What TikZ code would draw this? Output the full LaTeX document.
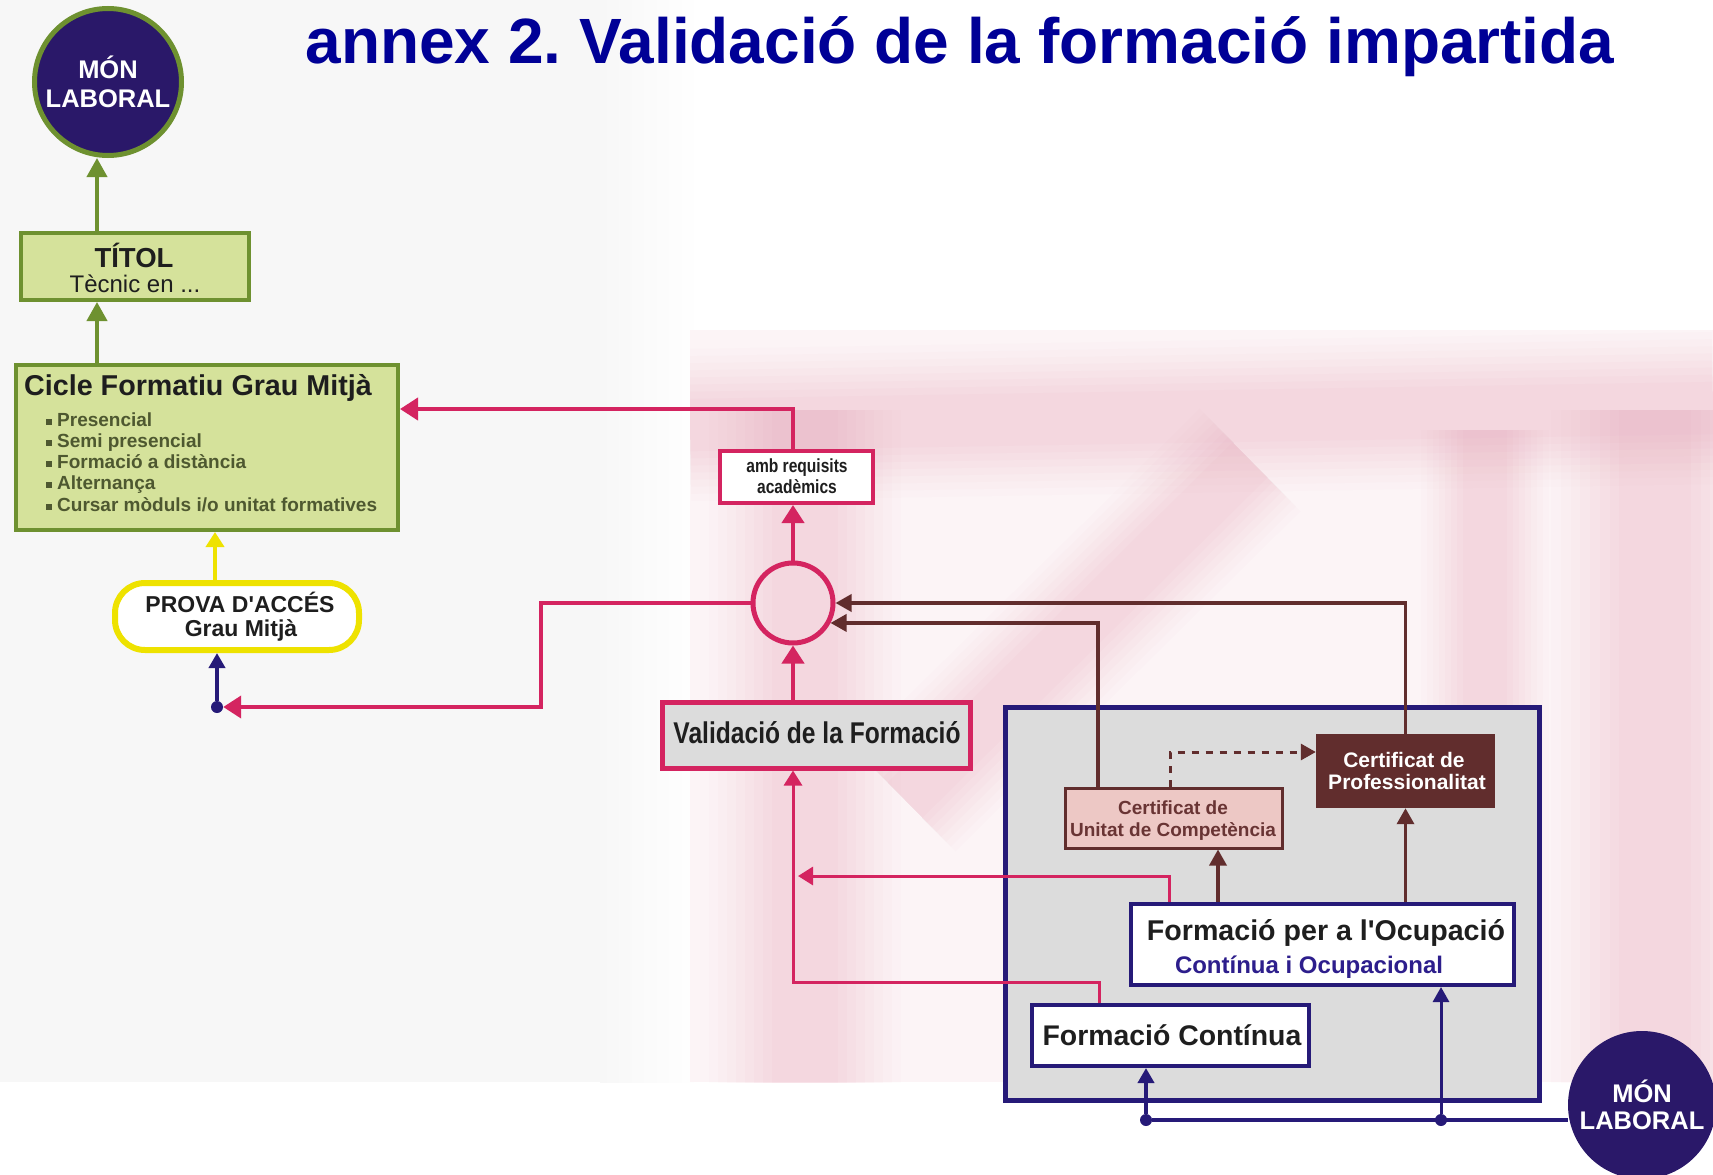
\documentclass[tikz,border=0pt]{standalone}
\usepackage{fontspec}
\setmainfont{Liberation Sans}
\newfontfamily\narrowsans[FakeStretch=0.82]{Liberation Sans}
\usetikzlibrary{arrows.meta}
\definecolor{indigo}{RGB}{42,24,105}
\definecolor{grnb}{RGB}{110,145,48}
\definecolor{grnf}{RGB}{213,226,155}
\definecolor{pnk}{RGB}{212,36,96}
\definecolor{ylw}{RGB}{238,226,0}
\definecolor{brn}{RGB}{97,45,45}
\definecolor{brntxt}{RGB}{105,52,52}
\definecolor{lpnk}{RGB}{237,200,197}
\definecolor{boxgrey}{RGB}{220,220,220}
\definecolor{dblue}{RGB}{38,26,120}
\definecolor{ttlblue}{RGB}{0,0,150}
\definecolor{olivetxt}{RGB}{78,88,48}
\definecolor{bgpink}{RGB}{252,244,246}
\definecolor{bgband}{RGB}{232,156,176}
\definecolor{bggrey}{RGB}{247,247,247}
\definecolor{ocblue}{RGB}{45,30,140}
\definecolor{txtdark}{RGB}{30,30,30}
\newcommand{\fsz}[1]{\fontsize{#1}{#1}\selectfont}
\newcommand{\softband}[2]{%
  \foreach \w/\o in {1.6/0.025, 1.45/0.03, 1.3/0.035, 1.15/0.04, 1.0/0.045, 0.85/0.05, 0.7/0.055, 0.55/0.06}{%
    \draw[bgband, line width=\w*#2 pt, opacity=\o] #1;}}
\tikzset{
 lbl/.style={inner sep=0pt, anchor=base},
 gbox/.style={draw=grnb, fill=grnf, line width=4pt, rectangle, inner sep=0pt},
 garr/.style={draw=grnb, line width=4pt, -{Triangle[width=20pt,length=19pt]}},
 yarr/.style={draw=ylw, line width=4pt, -{Triangle[width=18pt,length=15pt]}},
 parr/.style={draw=pnk, line width=4pt, -{Triangle[width=22pt,length=18pt]}},
 tparr/.style={draw=pnk, line width=3pt, -{Triangle[width=18pt,length=15pt]}},
 brarr/.style={draw=brn, line width=3.5pt, -{Triangle[width=17pt,length=16pt]}},
 barr/.style={draw=dblue, line width=4pt, -{Triangle[width=16pt,length=15pt]}},
 dot/.style={circle, fill=dblue, minimum size=12pt, inner sep=0pt},
}
\begin{document}
\begin{tikzpicture}[x=1pt,y=-1pt]
\useasboundingbox (0,0) rectangle (1713,1175);
% background wash
\fill[bggrey] (0,0) rectangle (600,1082);
\shade[left color=bggrey, right color=white] (600,0) rectangle (700,1082);
\begin{scope}
\clip (690,330) rectangle (1713,1082);
\fill[bgpink] (690,330) rectangle (1713,1082);
\softband{(690,425) -- (1713,408)}{95}
\softband{(805,410) -- (805,1100)}{120}
\softband{(1655,410) -- (1655,1100)}{130}
\softband{(905,800) -- (1250,460)}{90}
\softband{(1485,430) -- (1485,1000)}{80}
\end{scope}

% title
\node[lbl, font=\bfseries\fsz{64}, text=ttlblue] (title) at (960,63) {annex 2.\ Validació de la formació impartida};

% top MÓN LABORAL
\node[circle, fill=indigo, draw=grnb, line width=5pt, minimum size=147pt, inner sep=0pt] (mon1) at (108,82) {};
\node[lbl, text=white, font=\bfseries\fsz{25.5}] (mon1a) at (108,78) {MÓN};
\node[lbl, text=white, font=\bfseries\fsz{25.5}] (mon1b) at (108,107) {LABORAL};

% TÍTOL
\node[gbox, minimum width=228pt, minimum height=67pt] (titol) at (135,266.5) {};
\node[lbl, font=\bfseries\fsz{27.5}, text=txtdark] (titola) at (134,267) {TÍTOL};
\node[lbl, font=\fsz{24}, text=txtdark] (titolb) at (135,292) {Tècnic en ...};

% Cicle
\node[gbox, minimum width=382pt, minimum height=165pt] (cicle) at (207,447.5) {};
\node[lbl, anchor=base west, font=\bfseries\fsz{28.7}, text=txtdark] (ciclet) at (24,395) {Cicle Formatiu Grau Mitjà};
\node[lbl, anchor=base west, font=\bfseries\fsz{19}, text=olivetxt] (it1) at (57,426) {Presencial};
\node[lbl, anchor=base west, font=\bfseries\fsz{19}, text=olivetxt] (it2) at (57,447) {Semi presencial};
\node[lbl, anchor=base west, font=\bfseries\fsz{19}, text=olivetxt] (it3) at (57,468) {Formació a distància};
\node[lbl, anchor=base west, font=\bfseries\fsz{19}, text=olivetxt] (it4) at (57,489) {Alternança};
\node[lbl, anchor=base west, font=\bfseries\fsz{19}, text=olivetxt] (it5) at (57,511) {Cursar mòduls i/o unitat formatives};
\fill[olivetxt] (46,419) rectangle (52,425);
\fill[olivetxt] (46,440) rectangle (52,446);
\fill[olivetxt] (46,461) rectangle (52,467);
\fill[olivetxt] (46,482) rectangle (52,488);
\fill[olivetxt] (46,504) rectangle (52,510);

% PROVA
\node[draw=ylw, line width=6pt, fill=white, rounded corners=30pt, minimum width=244pt, minimum height=67pt, inner sep=0pt] (prova) at (237,616.5) {};
\node[lbl, font=\bfseries\fsz{23}, text=txtdark] (provaa) at (240,612) {PROVA D\textquotesingle ACCÉS};
\node[lbl, font=\bfseries\fsz{23}, text=txtdark] (provab) at (241,636) {Grau Mitjà};

% junction circle
\node[circle, draw=pnk, line width=5pt, minimum size=80pt, inner sep=0pt] (jc) at (793,603) {};

% amb requisits
\node[draw=pnk, line width=4pt, fill=white, minimum width=153pt, minimum height=52pt, inner sep=0pt] (amb) at (796.5,477) {};
\node[lbl, font=\narrowsans\bfseries\fsz{19}, text=txtdark] (amba) at (797,472) {amb requisits};
\node[lbl, font=\narrowsans\bfseries\fsz{19}, text=txtdark] (ambb) at (797,493) {acadèmics};

% Validació
\node[draw=pnk, line width=5pt, fill=boxgrey, minimum width=308pt, minimum height=66pt, inner sep=0pt] (val) at (816,735) {};
\node[lbl, font=\narrowsans\bfseries\fsz{30}, text=txtdark] (valt) at (817,743) {Validació de la Formació};

% container
\node[draw=dblue, line width=5pt, fill=boxgrey, minimum width=534pt, minimum height=393pt, inner sep=0pt] (cont) at (1272.5,904) {};

% Certificat de Professionalitat
\node[fill=brn, minimum width=179pt, minimum height=74pt, inner sep=0pt] (prof) at (1405.5,771) {};
\node[lbl, font=\bfseries\fsz{21}, text=white] (profa) at (1404,767) {Certificat de};
\node[lbl, font=\bfseries\fsz{21}, text=white] (profb) at (1407,789) {Professionalitat};

% Certificat de Unitat de Competència
\node[draw=brn, line width=3pt, fill=lpnk, minimum width=217pt, minimum height=60pt, inner sep=0pt] (unit) at (1173.5,818) {};
\node[lbl, font=\bfseries\fsz{19}, text=brntxt] (unita) at (1173,814) {Certificat de};
\node[lbl, font=\bfseries\fsz{19}, text=brntxt] (unitb) at (1173,836) {Unitat de Competència};

% Formació per a l'Ocupació
\node[draw=dblue, line width=4pt, fill=white, minimum width=383pt, minimum height=81pt, inner sep=0pt] (oc) at (1322.5,944.5) {};
\node[lbl, font=\bfseries\fsz{28.6}, text=txtdark] (oca) at (1326,940) {Formació per a l\textquotesingle Ocupació};
\node[lbl, font=\bfseries\fsz{24}, text=ocblue] (ocb) at (1309,973) {Contínua i Ocupacional};

% Formació Contínua
\node[draw=dblue, line width=4pt, fill=white, minimum width=277pt, minimum height=61pt, inner sep=0pt] (fc) at (1170.5,1035.5) {};
\node[lbl, font=\bfseries\fsz{28.4}, text=txtdark] (fct) at (1172,1045) {Formació Contínua};

% bottom MÓN LABORAL
\node[circle, fill=indigo, minimum size=148pt, inner sep=0pt] (mon2) at (1642,1105) {};
\node[lbl, text=white, font=\bfseries\fsz{25.5}] (mon2a) at (1642,1102) {MÓN};
\node[lbl, text=white, font=\bfseries\fsz{25.5}] (mon2b) at (1642,1129) {LABORAL};

% ---- connectors ----
\coordinate (gx) at (97,0);
\draw[garr] (titol.north -| gx) -- (mon1.south -| gx);
\draw[garr] (cicle.north -| gx) -- (titol.south -| gx);

\coordinate (yx) at (215,0);
\draw[yarr] (prova.north -| yx) -- (cicle.south -| yx);

\node[dot] (d0) at (217,707) {};
\draw[barr] (d0) -- (prova.south -| d0);
\coordinate (pk1) at (541,650);
\draw[parr] (jc.west) -| (pk1) |- (d0.east);

\draw[parr] (jc.north) -- (jc.north |- amb.south);
\coordinate (ty) at (0,409);
\draw[parr] (jc |- amb.north) |- (cicle.east |- ty);
\draw[parr] (val.north -| jc) -- (jc.south);

\coordinate (k1) at (1099,982);
\draw[tparr] (fc.north -| k1) |- (jc |- k1) -- (jc |- val.south);
\coordinate (k2) at (1169,876);
\coordinate (k3) at (798,876);
\draw[tparr] (oc.north -| k2) |- (k3);

\coordinate (bx1) at (1098,0);
\draw[brarr] (unit.north -| bx1) |- (jc.-28);
\draw[brarr] (prof.north) |- (jc.east);
\coordinate (bx2) at (1218,0);
\draw[brarr] (oc.north -| bx2) -- (unit.south -| bx2);
\draw[brarr] (oc.north -| prof.south) -- (prof.south);
\coordinate (dd) at (1170,752);
\draw[draw=brn, line width=3pt, dash pattern=on 7pt off 7pt, -{Triangle[width=16pt,length=15pt]}] (unit.north -| dd) |- (prof.west |- dd);

\node[dot] (d1) at (1146,1120) {};
\node[dot] (d2) at (1441,1120) {};
\draw[draw=dblue, line width=4pt] (d1) -- (d1 -| mon2.west);
\draw[barr] (d1) -- (fc.south -| d1);
\draw[barr, line width=3pt] (d2) -- (oc.south -| d2);
\end{tikzpicture}
\end{document}
